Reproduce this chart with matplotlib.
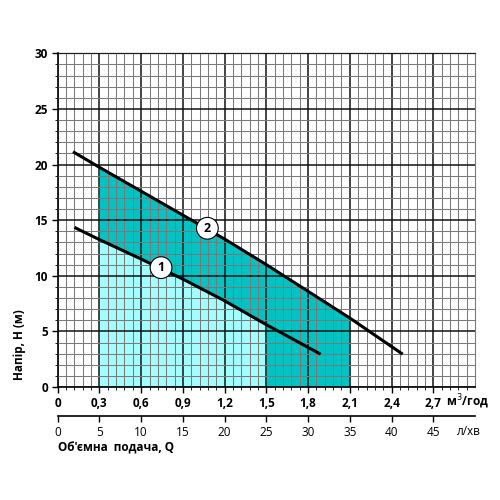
import numpy as np
import matplotlib
matplotlib.use('Agg')
import matplotlib.pyplot as plt
from matplotlib.ticker import FixedLocator

plt.rcParams['font.family'] = ['Open Sans', 'DejaVu Sans']

# --- data ---
q1 = [0.12, 0.3, 0.6, 0.9, 1.2, 1.5, 1.89]          # m3/h
h1 = [14.35, 13.25, 11.5, 9.7, 7.75, 5.6, 2.95]     # m
q2 = [0.11, 0.3, 0.6, 0.9, 1.2, 1.5, 1.8, 2.1, 2.48]
h2 = [21.15, 19.75, 17.6, 15.45, 13.3, 11.0, 8.6, 6.2, 2.95]

x_ticks = [0, 0.3, 0.6, 0.9, 1.2, 1.5, 1.8, 2.1, 2.4, 2.7]
x_labels = ['0', '0,3', '0,6', '0,9', '1,2', '1,5', '1,8', '2,1', '2,4', '2,7']
y_ticks = [0, 5, 10, 15, 20, 25, 30]
lpm_ticks = [0, 5, 10, 15, 20, 25, 30, 35, 40, 45]

labels = ['1', '2']
label_pos = [(0.743, 10.73), (1.076, 14.27)]

light = '#a3ffff'
dark = '#00c4c4'

fig = plt.figure(figsize=(5, 5), dpi=100)
ax = fig.add_axes([0.1154, 0.226, 0.8346, 0.6674])

# --- filled working zones ---
ax.fill_between(q2[1:8], 0, h2[1:8], color=dark, lw=0, zorder=1)
ax.fill_between(q1[1:6], 0, h1[1:6], color=light, lw=0, zorder=1.1)

# --- curves ---
ax.plot(q1, h1, color='black', lw=2.2, solid_capstyle='butt', zorder=3)
ax.plot(q2, h2, color='black', lw=2.2, solid_capstyle='butt', zorder=3)

for lab, (x, y) in zip(labels, label_pos):
    ax.text(x, y, lab, ha='center', va='center', fontsize=9, fontweight='bold',
            zorder=5,
            bbox=dict(boxstyle='circle,pad=0.35', fc='white', ec='black', lw=0.8))

ax.set_xlim(0, 3.0)
ax.set_ylim(0, 30)
ax.xaxis.set_major_locator(FixedLocator(x_ticks))
ax.xaxis.set_minor_locator(FixedLocator([i * 0.06 for i in range(51) if i % 5]))
ax.yaxis.set_major_locator(FixedLocator(y_ticks))
ax.yaxis.set_minor_locator(FixedLocator([i for i in range(31) if i % 5]))
ax.set_xticklabels(x_labels, fontsize=8.5, fontweight='bold')
ax.set_yticklabels([str(v) for v in y_ticks], fontsize=8.5, fontweight='bold')
ax.tick_params(which='major', direction='out', length=4, width=1, pad=3)
ax.tick_params(which='minor', direction='out', length=2, width=0.6)

ax.set_axisbelow(False)
ax.grid(which='major', color='#111111', lw=1.1)
ax.grid(which='minor', color='#7a7a7a', lw=0.75)

for s in ['left', 'bottom']:
    ax.spines[s].set_linewidth(1.2)
ax.spines['top'].set_color('#333333')
ax.spines['top'].set_linewidth(0.9)
ax.spines['right'].set_color('#7a7a7a')
ax.spines['right'].set_linewidth(0.8)

fig.text(0.893, 0.197, 'м$^{3}$/год', fontsize=8.5, fontweight='bold', va='center')

# --- second scale, l/min ---
ax2 = fig.add_axes([0.1154, 1 - 416 / 500, 0.8346, 0.0001])
ax2.set_xlim(0, 50)
ax2.set_ylim(0, 1)
ax2.set_yticks([])
ax2.set_xticks(lpm_ticks)
ax2.set_xticklabels([str(v) for v in lpm_ticks], fontsize=8.5)
ax2.tick_params(axis='x', direction='out', length=4, width=1, pad=3)
for s in ['left', 'right', 'top']:
    ax2.spines[s].set_visible(False)
ax2.spines['bottom'].set_linewidth(1.2)
ax2.patch.set_visible(False)
fig.text(0.914, 0.137, 'л/хв', fontsize=8.5, va='center')

fig.text(0.116, 0.104, "Об'ємна  подача, Q", fontsize=8.5, fontweight='bold', va='center')
fig.text(0.04, 0.31, 'Напір, H (м)', fontsize=8.5, fontweight='bold', rotation=90,
         ha='center', va='center')

fig.savefig('out.png', dpi=100)
